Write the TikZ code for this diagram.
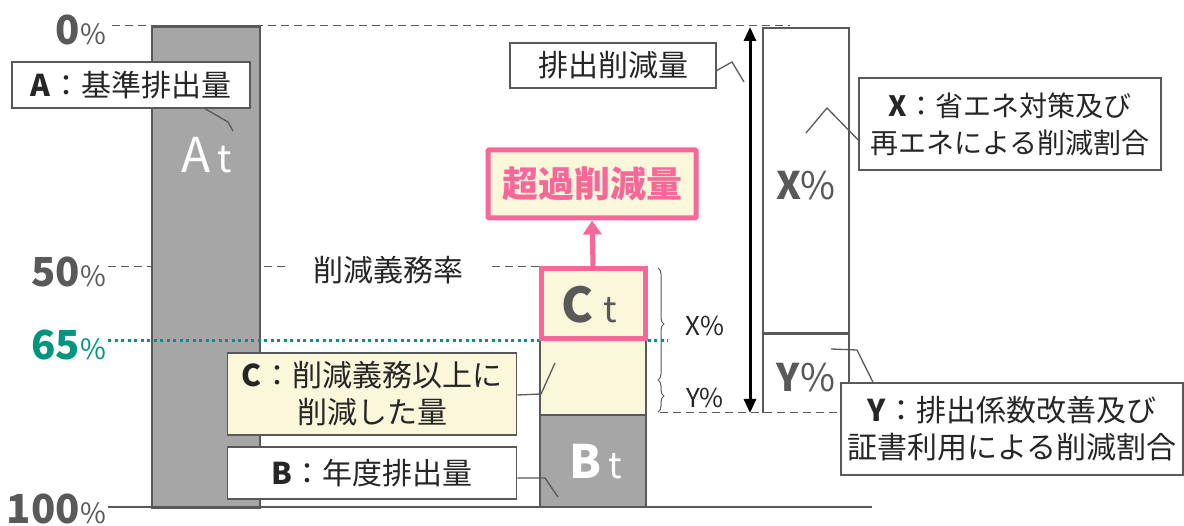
\documentclass[tikz,border=0pt]{standalone}
\usepackage{fontspec}
\setmainfont{Noto Sans CJK JP}
\usetikzlibrary{decorations.pathreplacing,arrows.meta}
\definecolor{gbar}{HTML}{A6A6A6}
\definecolor{gline}{HTML}{595959}
\definecolor{pinkc}{HTML}{F7679A}
\definecolor{yell}{HTML}{FBF7DA}
\definecolor{tealc}{HTML}{00957F}
\definecolor{txt}{HTML}{262626}
\tikzset{
  lbl/.style={draw=gline, line width=1.5pt, fill=white, inner sep=0pt, text=txt, font=\fontsize{30}{37}\selectfont, align=center},
  barbox/.style={draw=gline, line width=2.5pt, inner sep=0pt},
  pct/.style={anchor=east, text=gline, inner sep=0pt},
  dsh/.style={gline, line width=1pt, dash pattern=on 8pt off 5pt},
  ptr/.style={gline, line width=1.3pt},
}
\begin{document}
\begin{tikzpicture}[x=1pt,y=-1pt]
\useasboundingbox (0,0) rectangle (1184,526);
% guide lines
\draw[dsh] (112,26) -- (790,26);
\draw[dsh] (108,267) -- (287,267);
\draw[dsh] (492,267) -- (540,267);
\draw[gline, line width=1.5pt] (108,507) -- (872,507);
% percent labels
\node[pct] (p0) at (106,30) {\fontsize{40}{40}\selectfont\bfseries 0\fontsize{28}{28}\mdseries\%};
\node[pct] (p50) at (106,272) {\fontsize{40}{40}\selectfont\bfseries 50\fontsize{28}{28}\mdseries\%};
\node[pct, text=tealc] (p65) at (106,345) {\fontsize{40}{40}\selectfont\bfseries 65\fontsize{28}{28}\mdseries\%};
\node[pct] (p100) at (106,509) {\fontsize{40}{40}\selectfont\bfseries 100\fontsize{28}{28}\mdseries\%};
\node[text=txt, inner sep=0pt, font=\fontsize{30}{30}\selectfont] (rate) at (388,270) {削減義務率};
% bar A
\node[barbox, fill=gbar, minimum width=108pt, minimum height=481pt] (barA) at (206,267) {};
\node[text=white, inner sep=0pt] (At) at (207,155) {\fontsize{48}{48}\selectfont A\hspace{7pt}\fontsize{38}{38}\selectfont t};
% teal dotted 65%
\draw[tealc, line width=3pt, dash pattern=on 3pt off 3.5pt] (108,341) -- (668,341);
% C and B bars
\node[barbox, fill=yell, minimum width=106pt, minimum height=75pt] (lowC) at (593,377.5) {};
\node[barbox, fill=gbar, minimum width=106pt, minimum height=92pt] (barB) at (593,461) {};
\node[text=white, inner sep=0pt] (Bt) at (596,462) {\fontsize{46}{46}\selectfont\bfseries B\hspace{7pt}\fontsize{36}{36}\mdseries t};
\node[draw=pinkc, line width=5pt, fill=yell, minimum width=104pt, minimum height=70pt, inner sep=0pt] (Ct) at (593,304) {};
\node[text=gline, inner sep=0pt] (Ctt) at (589,305) {\fontsize{48}{48}\selectfont\bfseries C\hspace{10pt}\fontsize{36}{36}\mdseries t};
% excess box
\node[draw=pinkc, line width=5pt, fill=yell, minimum width=208pt, minimum height=68pt, inner sep=0pt, text=pinkc, font=\fontsize{36}{36}\selectfont\bfseries, rounded corners=1pt] (exc) at (592,184) {超過削減量};
\draw[pinkc, line width=5pt, -{Triangle[length=14pt,width=18pt]}] (Ct.north) -- (exc.south);
% braces
\draw[gline, line width=1pt, decorate, decoration={brace, amplitude=6pt}] (658,268) -- (658,380);
\draw[gline, line width=1pt, decorate, decoration={brace, amplitude=6pt}] (658,380) -- (658,412);
\node[text=txt, inner sep=0pt, font=\fontsize{26}{26}\selectfont] (xl) at (705,326) {X\%};
\node[text=txt, inner sep=0pt, font=\fontsize{26}{26}\selectfont] (yl) at (705,398) {Y\%};
% X / Y boxes
\node[draw=gline, line width=2pt, fill=white, minimum width=86pt, minimum height=306pt, inner sep=0pt] (boxX) at (806,181) {};
\node[text=gline, inner sep=0pt] (Xp) at (806,186) {\fontsize{38}{38}\selectfont\bfseries X\mdseries\%};
\draw[gline, line width=2pt] (763,334) -- (763,413);
\draw[gline, line width=2pt] (849,334) -- (849,413);
\draw[gline, line width=3pt] (763,334) -- (849,334);
\coordinate (ybl) at (763,413);
\coordinate (ybr) at (849,413);
\draw[dsh] (660,413) -- (ybl) -- (ybr);
\node[text=gline, inner sep=0pt] (Yp) at (806,378) {\fontsize{38}{38}\selectfont\bfseries Y\mdseries\%};
% double arrow
\coordinate (aT) at (750,27);
\coordinate (aB) at (750,413);
\draw[black, line width=3pt, {Triangle[length=14pt,width=12pt]}-{Triangle[length=14pt,width=12pt]}] (aT) -- (aB);
% labels
\node[lbl, minimum width=238pt, minimum height=46pt] (labA) at (131,85) {\textbf{A}：基準排出量};
\draw[ptr] ([xshift=74pt]labA.south) -- (228,122) -- (233,131);
\node[lbl, minimum width=206pt, minimum height=45pt] (labR) at (613,65.5) {排出削減量};
\draw[ptr] ([yshift=-5pt]labR.east) -- (732,62) -- (744,82);
\node[lbl, minimum width=302pt, minimum height=92pt, font=\fontsize{28}{37}\selectfont] (labX) at (1010,124) {\textbf{X}：省エネ対策及び\\再エネによる削減割合};
\draw[ptr] ([yshift=-16pt]labX.west) -- (827,108) -- (806,133);
\node[lbl, minimum width=342pt, minimum height=92pt] (labY) at (1012,429) {\textbf{Y}：排出係数改善及び\\証書利用による削減割合};
\draw[ptr] ([xshift=-139pt]labY.north) -- (857,350) -- (831,349);
\node[lbl, fill=yell, minimum width=289pt, minimum height=82pt] (labC) at (372,394) {\textbf{C}：削減義務以上に\\削減した量};
\draw[ptr] ([yshift=-1pt]labC.east) -- (541,394) -- (555,363);
\node[lbl, minimum width=289pt, minimum height=52pt] (labB) at (372,473) {\textbf{B}：年度排出量};
\draw[ptr] ([yshift=-5pt]labB.east) -- (545,478) -- (558,497);
\end{tikzpicture}
\end{document}
